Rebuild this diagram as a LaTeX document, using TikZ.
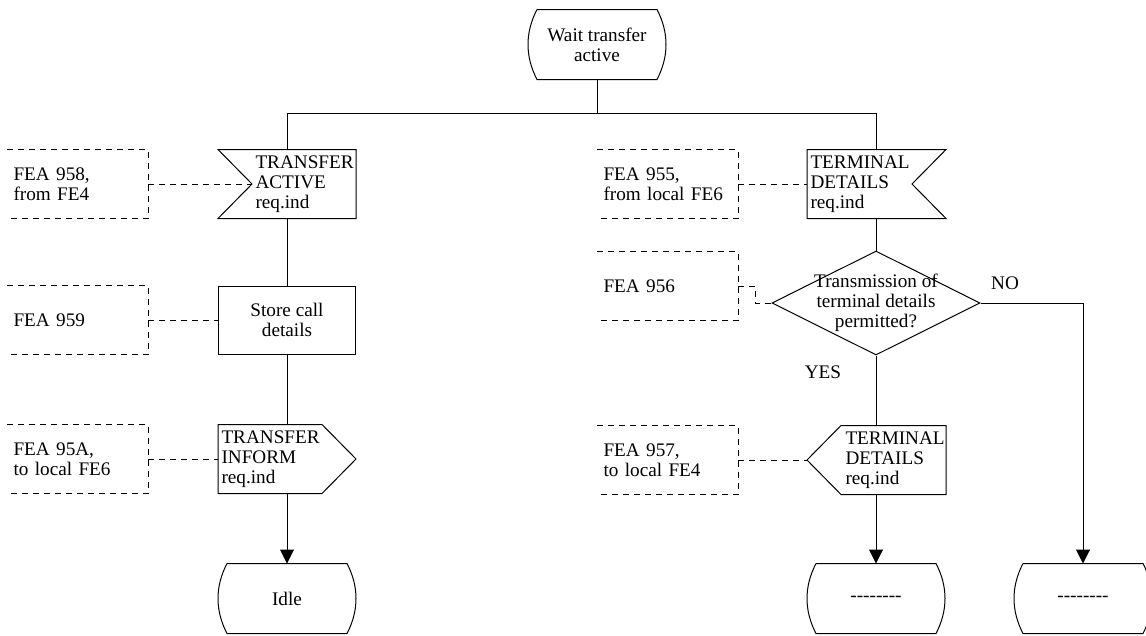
\documentclass[tikz,border=0pt]{standalone}
\usepackage{fontspec}
\setmainfont{Liberation Serif}[Ligatures=TeXOff]
\usetikzlibrary{shapes.geometric,arrows.meta}

\begin{document}
\begin{tikzpicture}[x=1pt, y=-1pt, line width=1pt,
    every node/.style={font=\fontsize{19.2}{20}\selectfont, inner sep=0pt},
    state/.style={minimum width=137pt, minimum height=69pt, align=center},
    task/.style={draw, minimum width=137pt, minimum height=68pt, align=center},
    signal/.style={anchor=west, text width=100pt, minimum height=68pt, align=left},
    note/.style={anchor=west, text width=134pt, minimum height=68pt, align=left},
    decision/.style={draw, diamond, minimum width=208pt, minimum height=104pt},
    comment/.style={dash pattern=on 6pt off 5pt},
    flow/.style={-{Triangle[width=14pt,length=14pt]}}]
	\useasboundingbox (0,0) rectangle (1146,635);
	% states
	\node[state] (wait) at (597,44.5) {Wait transfer\\active};
	\node[state] (idle) at (287,598.5) {Idle};
	\node[state] (endA) at (876,598.5) {--------};
	\node[state] (endB) at (1083,598.5) {--------};
	\foreach \s in {wait,idle,endA,endB}
		\draw ([xshift=9pt]\s.north west) -- ([xshift=-9pt]\s.north east)
			.. controls +(12,23) and +(12,-23) .. ([xshift=-9pt]\s.south east)
			-- ([xshift=9pt]\s.south west)
			.. controls +(-12,-23) and +(-12,23) .. ([xshift=9pt]\s.north west);
	% left branch
	\node[signal] (ta) at (255,184) {TRANSFER\\ACTIVE\\req.ind};
	\draw ([xshift=-37pt]ta.north west) -- (ta.north east) -- (ta.south east)
		-- ([xshift=-37pt]ta.south west) -- ([xshift=-3pt]ta.west) -- cycle;
	\node[task] (store) at (287,320) {Store call\\details};
	\node[signal] (ti) at (221,459) {TRANSFER\\INFORM\\req.ind};
	\draw ([xshift=-3pt]ti.north west) -- (ti.north east) -- ([xshift=34pt]ti.east)
		-- (ti.south east) -- ([xshift=-3pt]ti.south west) -- cycle;
	% right branch
	\node[signal] (td) at (810,184) {TERMINAL\\DETAILS\\req.ind};
	\draw ([xshift=-3pt]td.north west) -- ([xshift=35pt]td.north east) -- ([xshift=1pt]td.east)
		-- ([xshift=35pt]td.south east) -- ([xshift=-3pt]td.south west) -- cycle;
	\node[decision, label={[align=center]center:Transmission of\\terminal details\\permitted?}] (dec) at (876,303) {};
	\node[signal] (to) at (845,460) {TERMINAL\\DETAILS\\req.ind};
	\draw ([xshift=-4pt]to.north west) -- (to.north east) -- (to.south east)
		-- ([xshift=-4pt]to.south west) -- ([xshift=-38pt]to.west) -- cycle;
	\node (yes) at (823,372) {YES};
	\node (no) at (1005,283) {NO};
	% comments
	\node[note] (c958) at (13,184) {FEA 958,\\from FE4};
	\node[note] (c959) at (13,320) {FEA 959};
	\node[note] (c95A) at (13,459) {FEA 95A,\\to local FE6};
	\node[note] (c955) at (603,184) {FEA 955,\\from local FE6};
	\node[note] (c956) at (603,286) {FEA 956};
	\node[note] (c957) at (603,460) {FEA 957,\\to local FE4};
	\foreach \c in {c958,c959,c95A,c955,c956,c957}
		\draw[comment] ([xshift=-6pt]\c.north west) -- (\c.north east) -- (\c.south east) -- ([xshift=-6pt]\c.south west);
	\draw[comment] (c958.east) -- ([xshift=-3pt]ta.west);
	\draw[comment] (c959.east) -- (store.west);
	\draw[comment] (c95A.east) -- ([xshift=-3pt]ti.west);
	\draw[comment] (c955.east) -- ([xshift=-3pt]td.west);
	\draw[comment] (c956.east) -- ++(17,0) |- (dec.west);
	\draw[comment] (c957.east) -- ([xshift=-38pt]to.west);
	% connectors
	\coordinate (fork) at (597,113);
	\coordinate (forkL) at (287,113);
	\coordinate (forkR) at (876,113);
	\draw (wait) -- (fork);
	\draw (forkL) -- (forkR);
	\draw (forkL) -- (forkL |- ta.north);
	\draw (forkL |- ta.south) -- (store);
	\draw (store) -- (forkL |- ti.north);
	\draw[flow] (forkL |- ti.south) -- (idle);
	\draw (forkR) -- (forkR |- td.north);
	\draw (forkR |- td.south) -- (dec);
	\draw (dec) -- (forkR |- to.north);
	\draw[flow] (forkR |- to.south) -- (endA);
	\draw[flow] (dec.east) -| (endB);
\end{tikzpicture}
\end{document}
